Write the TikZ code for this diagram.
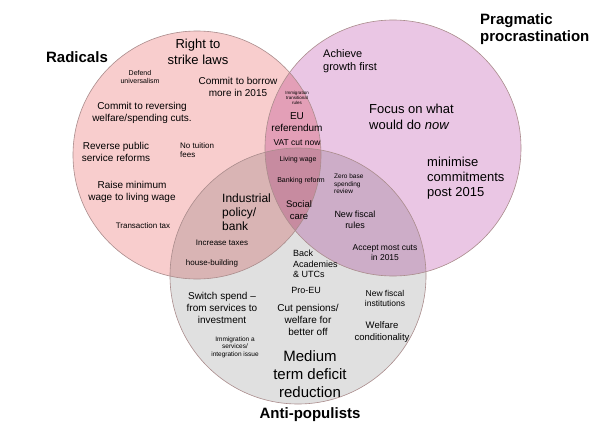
\documentclass[tikz,border=0pt]{standalone}
\usepackage{fontspec}
\setmainfont{Liberation Sans}
\definecolor{cred}{RGB}{248,205,205}
\definecolor{cpur}{RGB}{234,198,228}
\definecolor{cgry}{RGB}{224,224,224}
\definecolor{edge}{RGB}{170,140,140}
\newcommand{\fsz}[1]{\fontsize{#1}{\dimexpr #1pt*118/100\relax}\selectfont}
\tikzset{venn/.style={draw=edge,line width=0.6pt},
 t/.style={align=center,inner sep=0pt,font=\fsz{#1}},
 tl/.style={align=left,inner sep=0pt,anchor=west,font=\fsz{#1}},
 title/.style={align=left,inner sep=0pt,font=\fsz{15}\bfseries}}
\begin{document}
\begin{tikzpicture}[x=1pt,y=-1pt]
\useasboundingbox[fill=white] (0,0) rectangle (610,431);
\begin{scope}[blend group=multiply]
\fill[cred] (197,155) circle (124);
\fill[cpur] (393,148) circle (128);
\fill[cgry] (298,276) circle (128);
\end{scope}
\draw[venn] (197,155) circle (124);
\draw[venn] (393,148) circle (128);
\draw[venn] (298,276) circle (128);
\node[title] (rad) at (77,57) {Radicals};
\node[title,anchor=west] (prag) at (480,29) {Pragmatic\\procrastination};
\node[title] (anti) at (310,415) {Anti-populists};
\node[t=13] (a1) at (198,52) {Right to\\strike laws};
\node[t=7] (a2) at (140,77) {Defend\\universalism};
\node[t=10] (a3) at (238,87) {Commit to borrow\\more in 2015};
\node[t=10] (a4) at (142,113) {Commit to reversing\\welfare/spending cuts.};
\node[t=10] (a5) at (116,152) {Reverse public\\service reforms};
\node[tl=8] (a6) at (180,150) {No tuition\\fees};
\node[t=10] (a7) at (132,192) {Raise minimum\\wage to living wage};
\node[t=8] (a8) at (143,226) {Transaction tax};
\node[t=4.5] (b1) at (297,98) {Immigration\\transitional\\rules};
\node[t=10] (b2) at (297,122) {EU\\referendum};
\node[t=8.5] (b3) at (297,143) {VAT cut now};
\node[t=7] (b4) at (298,160) {Living wage};
\node[t=7] (b5) at (301,181) {Banking reform};
\node[t=9.5] (b6) at (299,210) {Social\\care};
\node[tl=12] (c1) at (222,212) {Industrial\\policy/\\bank};
\node[t=8] (c2) at (222,243) {Increase taxes};
\node[t=8] (c3) at (212,263) {house-building};
\node[tl=11] (d1) at (323,61) {Achieve\\growth first};
\node[tl=13] (d2) at (369,117) {Focus on what\\would do \textit{now}};
\node[tl=13] (d3) at (427,178) {minimise\\commitments\\post 2015};
\node[tl=6.5] (e1) at (334,184) {Zero base\\spending\\review};
\node[t=9] (e2) at (355,220) {New fiscal\\rules};
\node[t=8.5] (e3) at (385,253) {Accept most cuts\\in 2015};
\node[tl=9] (f1) at (293,264) {Back\\Academies\\\& UTCs};
\node[t=9] (f2) at (306,290) {Pro-EU};
\node[t=10] (f3) at (222,308) {Switch spend –\\from services to\\investment};
\node[t=10] (f4) at (308,320) {Cut pensions/\\welfare for\\better off};
\node[t=8.5] (f5) at (385,298) {New fiscal\\institutions};
\node[t=9.5] (f6) at (382,332) {Welfare\\conditionality};
\node[t=6.5] (f7) at (235,347) {Immigration a\\services/\\integration issue};
\node[t=15] (f8) at (310,374) {Medium\\term deficit\\reduction};
\end{tikzpicture}
\end{document}
